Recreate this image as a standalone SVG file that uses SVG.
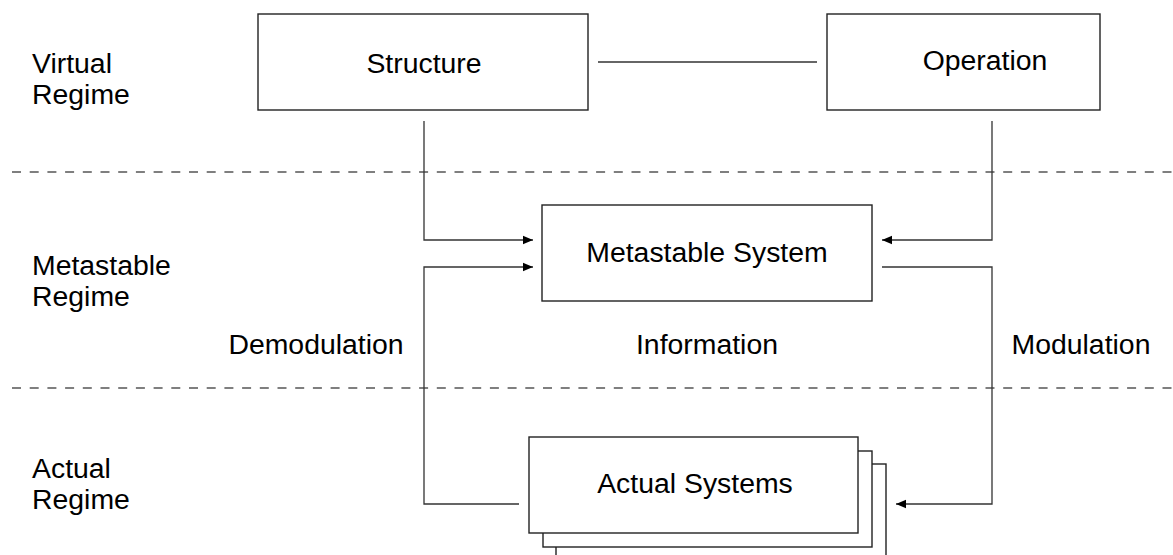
<svg xmlns="http://www.w3.org/2000/svg" width="1173" height="555" viewBox="0 0 1173 555">
<style>
.box{fill:#fff;stroke:#222;stroke-width:1.4}
.ln{fill:none;stroke:#333;stroke-width:1.3}
.dash{fill:none;stroke:#555;stroke-width:1.3;stroke-dasharray:9 8.7}
text{font-family:"Liberation Sans",Arial,sans-serif;font-size:28.4px;fill:#000}
.c{text-anchor:middle}
</style>
<defs>
<marker id="ah" markerUnits="userSpaceOnUse" markerWidth="11" markerHeight="10" refX="10" refY="5" orient="auto">
<path d="M0,0.8 L10,5 L0,9.2 Z" fill="#000"/>
</marker>
</defs>
<rect width="1173" height="555" fill="#fff"/>
<g id="regimes">
<line class="dash" x1="12" y1="172" x2="1173" y2="172"/>
<line class="dash" x1="12" y1="388" x2="1173" y2="388"/>
<text x="32" y="73">Virtual</text>
<text x="32" y="104">Regime</text>
<text x="32" y="275">Metastable</text>
<text x="32" y="306">Regime</text>
<text x="32" y="478">Actual</text>
<text x="32" y="509">Regime</text>
</g>
<g id="connectors">
<line class="ln" x1="598" y1="62" x2="817" y2="62"/>
<polyline class="ln" points="424,121 424,240 533,240" marker-end="url(#ah)"/>
<polyline class="ln" points="519,504 424,504 424,267 533,267" marker-end="url(#ah)"/>
<polyline class="ln" points="992,121 992,240 882,240" marker-end="url(#ah)"/>
<polyline class="ln" points="882,267 992,267 992,504 896,504" marker-end="url(#ah)"/>
<text x="316" y="354" class="c">Demodulation</text>
<text x="707" y="354" class="c">Information</text>
<text x="1081" y="354" class="c">Modulation</text>
</g>
<g id="structure">
<rect class="box" x="258" y="14" width="330" height="96"/>
<text x="424" y="73" class="c">Structure</text>
</g>
<g id="operation">
<rect class="box" x="827" y="14" width="273" height="96"/>
<text x="985" y="70" class="c">Operation</text>
</g>
<g id="metastable">
<rect class="box" x="542" y="205" width="330" height="96"/>
<text x="707" y="262" class="c">Metastable System</text>
</g>
<g id="actual">
<rect class="box" x="556" y="464" width="330" height="100"/>
<rect class="box" x="543" y="451" width="329" height="96"/>
<rect class="box" x="529" y="437" width="329" height="96"/>
<text x="695" y="493" class="c">Actual Systems</text>
</g>
</svg>
